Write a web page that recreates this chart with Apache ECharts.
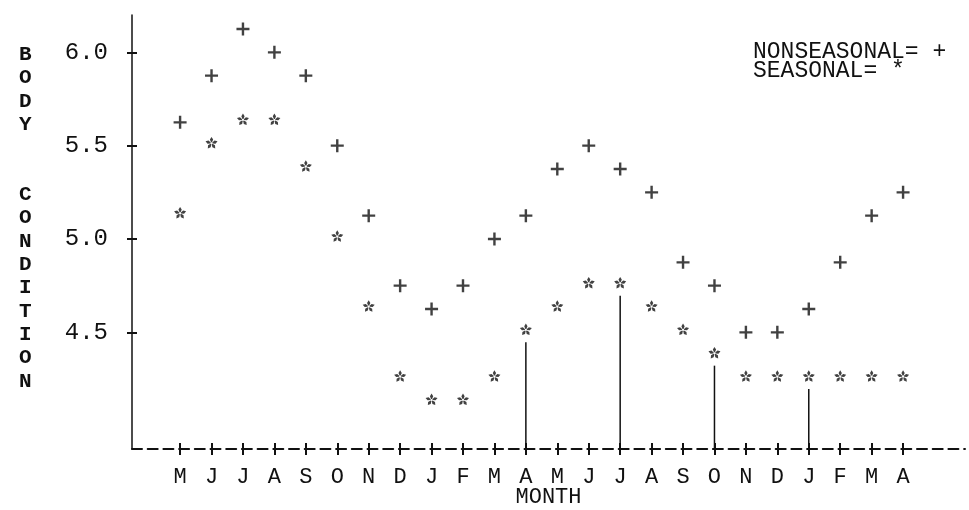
<!DOCTYPE html>
<html>
<head>
<meta charset="utf-8">
<script src="https://cdn.jsdelivr.net/npm/echarts@6/dist/echarts.min.js"></script>
<style>
  html, body { margin: 0; padding: 0; background: #fff; }
  #chart { width: 969px; height: 510px; }
</style>
</head>
<body>
<div id="chart"></div>
<script>
// ---- data ----
const months = ['M','J','J','A','S','O','N','D','J','F','M','A','M','J','J','A','S','O','N','D','J','F','M','A'];
const nonseasonal = [5.625,5.875,6.125,6.0,5.875,5.5,5.125,4.75,4.625,4.75,5.0,5.125,5.375,5.5,5.375,5.25,4.875,4.75,4.5,4.5,4.625,4.875,5.125,5.25];
const seasonal = [5.125,5.5,5.625,5.625,5.375,5.0,4.625,4.25,4.125,4.125,4.25,4.5,4.625,4.75,4.75,4.625,4.5,4.375,4.25,4.25,4.25,4.25,4.25,4.25];
const yTickValues = [4.5, 5.0, 5.5, 6.0];
const yTickLabels = ['4.5', '5.0', '5.5', '6.0'];
const dropIndices = [11, 14, 17, 20];
const yTitleWords = ['BODY', 'CONDITION'];
const xTitle = 'MONTH';
const legendLabels = ['NONSEASONAL= +', 'SEASONAL= *'];

// ---- axis ranges ----
const Y_MIN = 3.875, Y_MAX = 6.2;
const X_MIN = -1.53, X_MAX = 24.97;

const FONT = 'Liberation Mono';
const INK = '#111';

// plus glyph
const plusPath = 'path://M5.3,0H7.7V5.3H13V7.7H7.7V13H5.3V7.7H0V5.3H5.3Z';
// five-petal asterisk glyph
function starPath() {
  const angles = [-90, -18, 54, 126, 198];
  let d = '';
  angles.forEach(a => {
    const r = a * Math.PI / 180, c = Math.cos(r), s = Math.sin(r);
    const pt = (u, v) => [(u * c - v * s).toFixed(3), (u * s + v * c).toFixed(3)].join(',');
    d += 'M' + pt(1.0, -0.5) + 'L' + pt(3.6, -1.6) + 'L' + pt(6.2, 0) + 'L' + pt(3.6, 1.6) + 'L' + pt(1.0, 0.5) + 'Z';
  });
  return 'path://' + d;
}

// stacked (one letter per line) axis title, with two empty lines between words
const yTitleStacked = yTitleWords.map(w => w.split('').join('\n')).join('\n\n\n');

const xIdx = months.map((m, i) => i);
const nonData = nonseasonal.map((v, i) => [i, v]);
const seaData = seasonal.map((v, i) => [i, v]);
const dropData = dropIndices.map(i => [i, seasonal[i]]);

const chart = echarts.init(document.getElementById('chart'), null, { renderer: 'canvas' });
chart.setOption({
  backgroundColor: '#fff',
  animation: false,
  title: [
    {
      text: yTitleStacked,
      left: 14, top: 38,
      textStyle: { fontFamily: FONT, fontSize: 21, fontWeight: 'bold', color: INK, lineHeight: 23.33 }
    },
    {
      text: legendLabels.join('\n'),
      left: 748, top: 38,
      textStyle: { fontFamily: FONT, fontSize: 23, fontWeight: 'normal', color: INK, lineHeight: 18.5 }
    }
  ],
  grid: { left: 132, right: 4, top: 15, bottom: 61, containLabel: false, outerBoundsMode: 'none' },
  xAxis: [
    {
      type: 'value', min: X_MIN, max: X_MAX,
      name: xTitle, nameLocation: 'middle', nameGap: 37, nameMoveOverlap: false,
      nameTextStyle: { fontFamily: FONT, fontSize: 22, color: INK },
      axisLine: { onZero: false, lineStyle: { color: INK, width: 2, type: [10, 5.7] } },
      axisTick: { show: true, customValues: xIdx, length: 6, lineStyle: { color: INK, width: 2 } },
      axisLabel: {
        customValues: xIdx, margin: 17,
        fontFamily: FONT, fontSize: 22, color: INK,
        formatter: v => months[Math.round(v)]
      },
      splitLine: { show: false }
    },
    {
      type: 'value', min: X_MIN, max: X_MAX, position: 'bottom', offset: 0,
      axisLine: { show: false, onZero: false },
      axisTick: { show: true, inside: true, customValues: xIdx, length: 6, lineStyle: { color: INK, width: 2 } },
      axisLabel: { show: false },
      splitLine: { show: false }
    }
  ],
  yAxis: [
    {
      type: 'value', min: Y_MIN, max: Y_MAX,
      axisLine: { show: true, onZero: false, lineStyle: { color: INK, width: 1.5 } },
      axisTick: { show: true, customValues: yTickValues, length: 5, lineStyle: { color: INK, width: 2 } },
      axisLabel: {
        customValues: yTickValues, margin: 24, padding: [5, 0, 0, 0],
        fontFamily: FONT, fontSize: 24, color: INK,
        formatter: v => yTickLabels[yTickValues.indexOf(v)]
      },
      splitLine: { show: false }
    },
    {
      type: 'value', min: Y_MIN, max: Y_MAX, position: 'left', offset: 0,
      axisLine: { show: false, onZero: false },
      axisTick: { show: true, inside: true, customValues: yTickValues, length: 5, lineStyle: { color: INK, width: 2 } },
      axisLabel: { show: false },
      splitLine: { show: false }
    }
  ],
  series: [
    {
      name: 'NONSEASONAL', type: 'scatter', data: nonData,
      symbol: plusPath, symbolSize: [13, 13],
      itemStyle: { color: INK }
    },
    {
      name: 'SEASONAL', type: 'scatter', data: seaData,
      symbol: starPath(), symbolSize: [12, 11.5], symbolOffset: [0, -3],
      itemStyle: { color: INK }
    },
    {
      name: 'drop', type: 'custom', data: dropData,
      renderItem: function (params, api) {
        const x = api.value(0), v = api.value(1);
        const top = api.coord([x, v]);
        const bot = api.coord([x, Y_MIN]);
        return {
          type: 'line',
          shape: { x1: top[0], y1: top[1] + 10, x2: bot[0], y2: bot[1] },
          style: { stroke: INK, lineWidth: 1.5 }
        };
      },
      z: 1
    }
  ]
});
</script>
</body>
</html>
